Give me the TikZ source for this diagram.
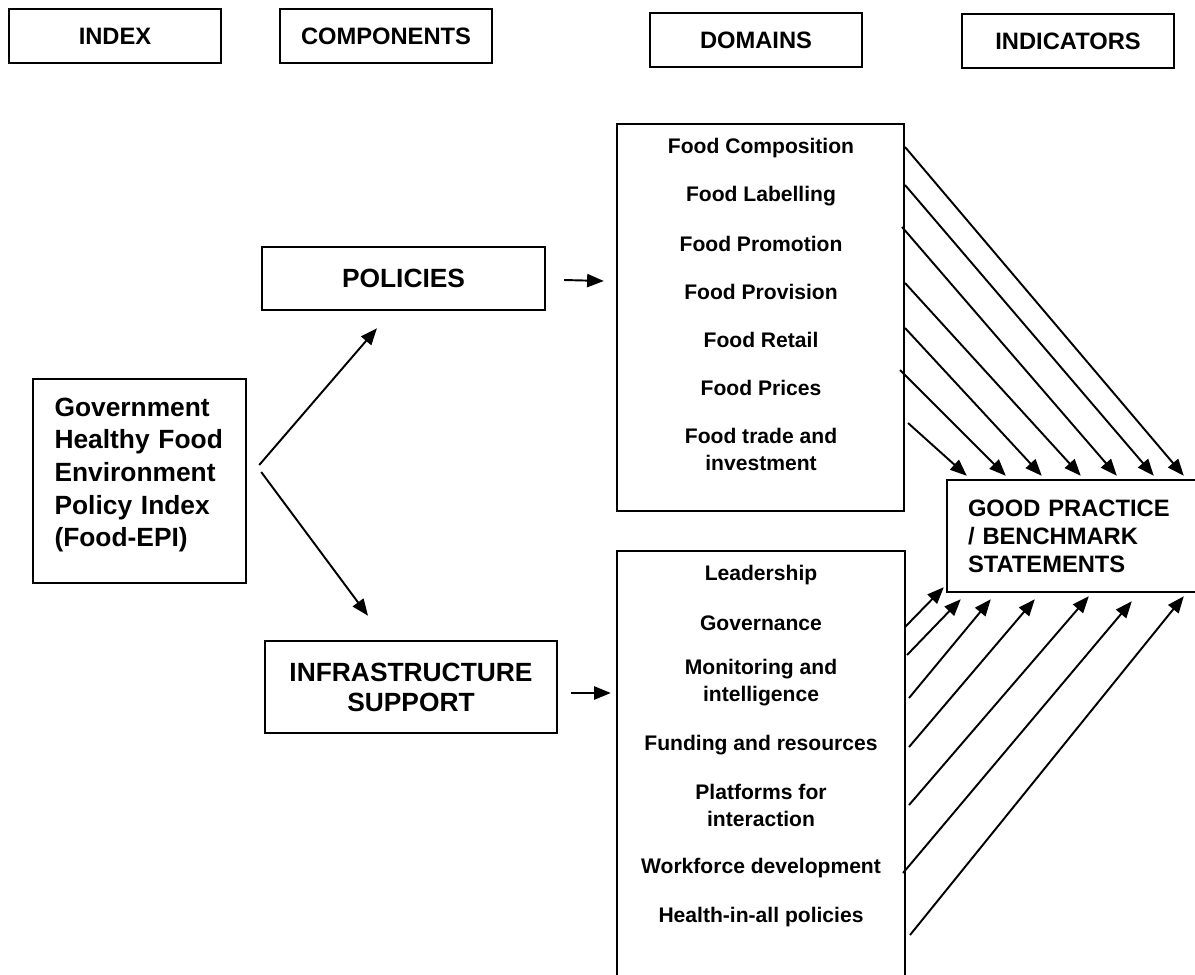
\documentclass[tikz,border=0pt]{standalone}
\usepackage{fontspec}
\setmainfont{Liberation Sans}
\usetikzlibrary{positioning,arrows.meta,calc}
\newcommand{\hdrfont}{\fontsize{13.5}{16}\selectfont\bfseries}
\newcommand{\domfont}{\fontsize{12}{15.4}\selectfont\bfseries}
\newcommand{\compfont}{\fontsize{15}{18.6}\selectfont\bfseries}

\begin{document}
\begin{tikzpicture}[x=0.02cm,y=-0.02cm,
    box/.style={draw,line width=1.4pt,inner sep=0pt,align=center},
    hdr/.style={box,minimum width=4.24cm,minimum height=1.08cm,font=\hdrfont},
    dom/.style={align=center,inner sep=0pt,font=\domfont},
    link/.style={line width=1.1pt,-{Triangle[length=9.5pt,width=7.5pt]}}]
  \useasboundingbox (0,0) rectangle (1195,974);

  \node[hdr] (hindex) at (115,36) {INDEX};
  \node[hdr] (hcomp) at (386,36) {COMPONENTS};
  \node[hdr] (hdom) at (756,40) {DOMAINS};
  \node[hdr] (hind) at (1068,41) {INDICATORS};

  \node[box,minimum width=4.26cm,minimum height=4.08cm,text width=3.4cm,
        align=left,font=\compfont] (idx) at (139.5,481)
    {Government\\Healthy Food\\Environment\\Policy Index\\(Food-EPI)\rule[-0.35cm]{0pt}{0pt}};
  \node[box,minimum width=5.66cm,minimum height=1.26cm,font=\compfont]
    (pol) at (403.5,278.5) {POLICIES};
  \node[box,minimum width=5.84cm,minimum height=1.84cm,
        font=\fontsize{15}{17}\selectfont\bfseries]
    (infra) at (411,687) {INFRASTRUCTURE\\SUPPORT};

  \node[box,minimum width=5.74cm,minimum height=7.74cm] (domA) at (760.5,317.5) {};
  \node[box,minimum width=5.76cm,minimum height=8.8cm] (domB) at (761,771) {};

  \foreach \i/\y/\txt in {1/148/Food Composition, 2/196/Food Labelling,
      3/244/Food Promotion, 4/292/Food Provision, 5/340/Food Retail,
      6/388/Food Prices, 7/449/{Food trade and\\investment}}
    \node[dom] (dp\i) at (761,\y) {\txt};
  \foreach \i/\y/\txt in {1/575/Leadership, 2/623/Governance,
      3/683/{Monitoring and\\intelligence}, 4/745/Funding and resources,
      5/805/{Platforms for\\interaction}, 6/868/Workforce development,
      7/917/Health-in-all policies}
    \node[dom] (di\i) at (761,\y) {\txt};

  \node[box,minimum width=5.06cm,minimum height=2.24cm,text width=4.22cm,
        align=left,font=\fontsize{13.5}{15.9}\selectfont\bfseries]
    (gp) at (1073.5,536) {GOOD PRACTICE\\/ BENCHMARK\\STATEMENTS};

  \draw[link] ($(idx.east)+(12,-16)$) -- ($(pol.south)+(-26.5,17)$);
  \draw[link] ($(idx.east)+(14,-9)$) -- ($(infra.north)+(-43,-24)$);
  \draw[link] ($(pol.east)+(18,1.5)$) -- ($(pol.east -| domA.west)+(-12,2.5)$);
  \draw[link] ($(infra.east)+(13,6)$) -- ($(infra.east -| domB.west)+(-5,6)$);

  \foreach \i/\sx/\sy/\ox in {1/905/147/238, 2/905/185/208, 3/902/227/171,
      4/905/283/135, 5/905/328/96, 6/900/370/60, 7/908/423/21}{
    \coordinate (sp\i) at (\sx,\sy);
    \draw[link] (sp\i) -- ($(gp.north west)+(\ox,-3)$);
  }
  \foreach \i/\sx/\sy/\ox/\oy in {1/905/627/-2/-6, 2/907/655/15/6, 3/909/698/45/6,
      4/909/747/89/6, 5/909/805/143/3, 6/903/873/186/8, 7/910/935/238/3}{
    \coordinate (si\i) at (\sx,\sy);
    \draw[link] (si\i) -- ($(gp.south west)+(\ox,\oy)$);
  }
\end{tikzpicture}
\end{document}
